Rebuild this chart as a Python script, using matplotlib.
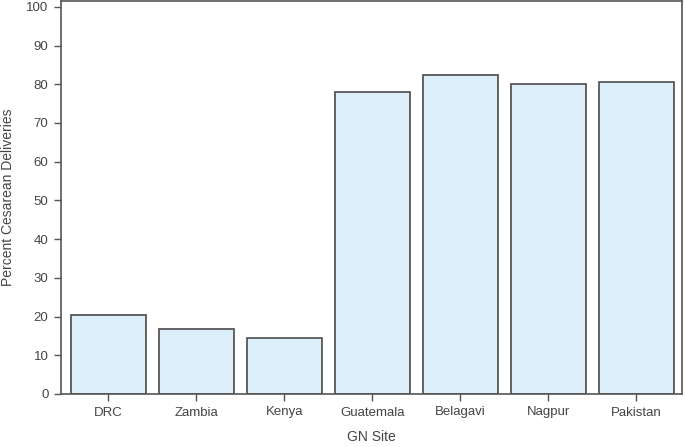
import numpy as np
import matplotlib.pyplot as plt

plt.rcParams['font.family'] = ['Liberation Sans', 'DejaVu Sans']

# dados
sites = ['DRC', 'Zambia', 'Kenya', 'Guatemala', 'Belagavi', 'Nagpur', 'Pakistan']
pct_cesarea = [20.3, 16.9, 14.5, 78.0, 82.4, 80.0, 80.6]
y_ticks = [0, 10, 20, 30, 40, 50, 60, 70, 80, 90, 100]

cor_texto = '#444444'
cor_borda = '#4a4a4a'

fig = plt.figure(figsize=(6.85, 4.47), dpi=100)
ax = fig.add_axes([61 / 685, 53 / 447, 621 / 685, 393 / 447])

pos = np.arange(len(sites))
ax.bar(pos, pct_cesarea, width=0.85, color='#ddeffa', edgecolor=cor_borda, linewidth=1.2)

ax.set_xlim(-0.54, 6.52)
ax.set_ylim(0, 101.5)
ax.set_xticks(pos)
ax.set_xticklabels(sites)
ax.set_yticks(y_ticks)

for lado in ['left', 'bottom', 'top', 'right']:
    ax.spines[lado].set_color('#555555')
    ax.spines[lado].set_linewidth(1.2)

ax.tick_params(axis='both', direction='out', length=5, width=1, color='#555555',
               labelsize=9.5, labelcolor=cor_texto, pad=4)

ax.set_xlabel('GN Site', fontsize=10, color=cor_texto, labelpad=8)
ax.set_ylabel('Percent Cesarean Deliveries', fontsize=10, color=cor_texto, labelpad=8)

fig.savefig('out.png', dpi=100)
